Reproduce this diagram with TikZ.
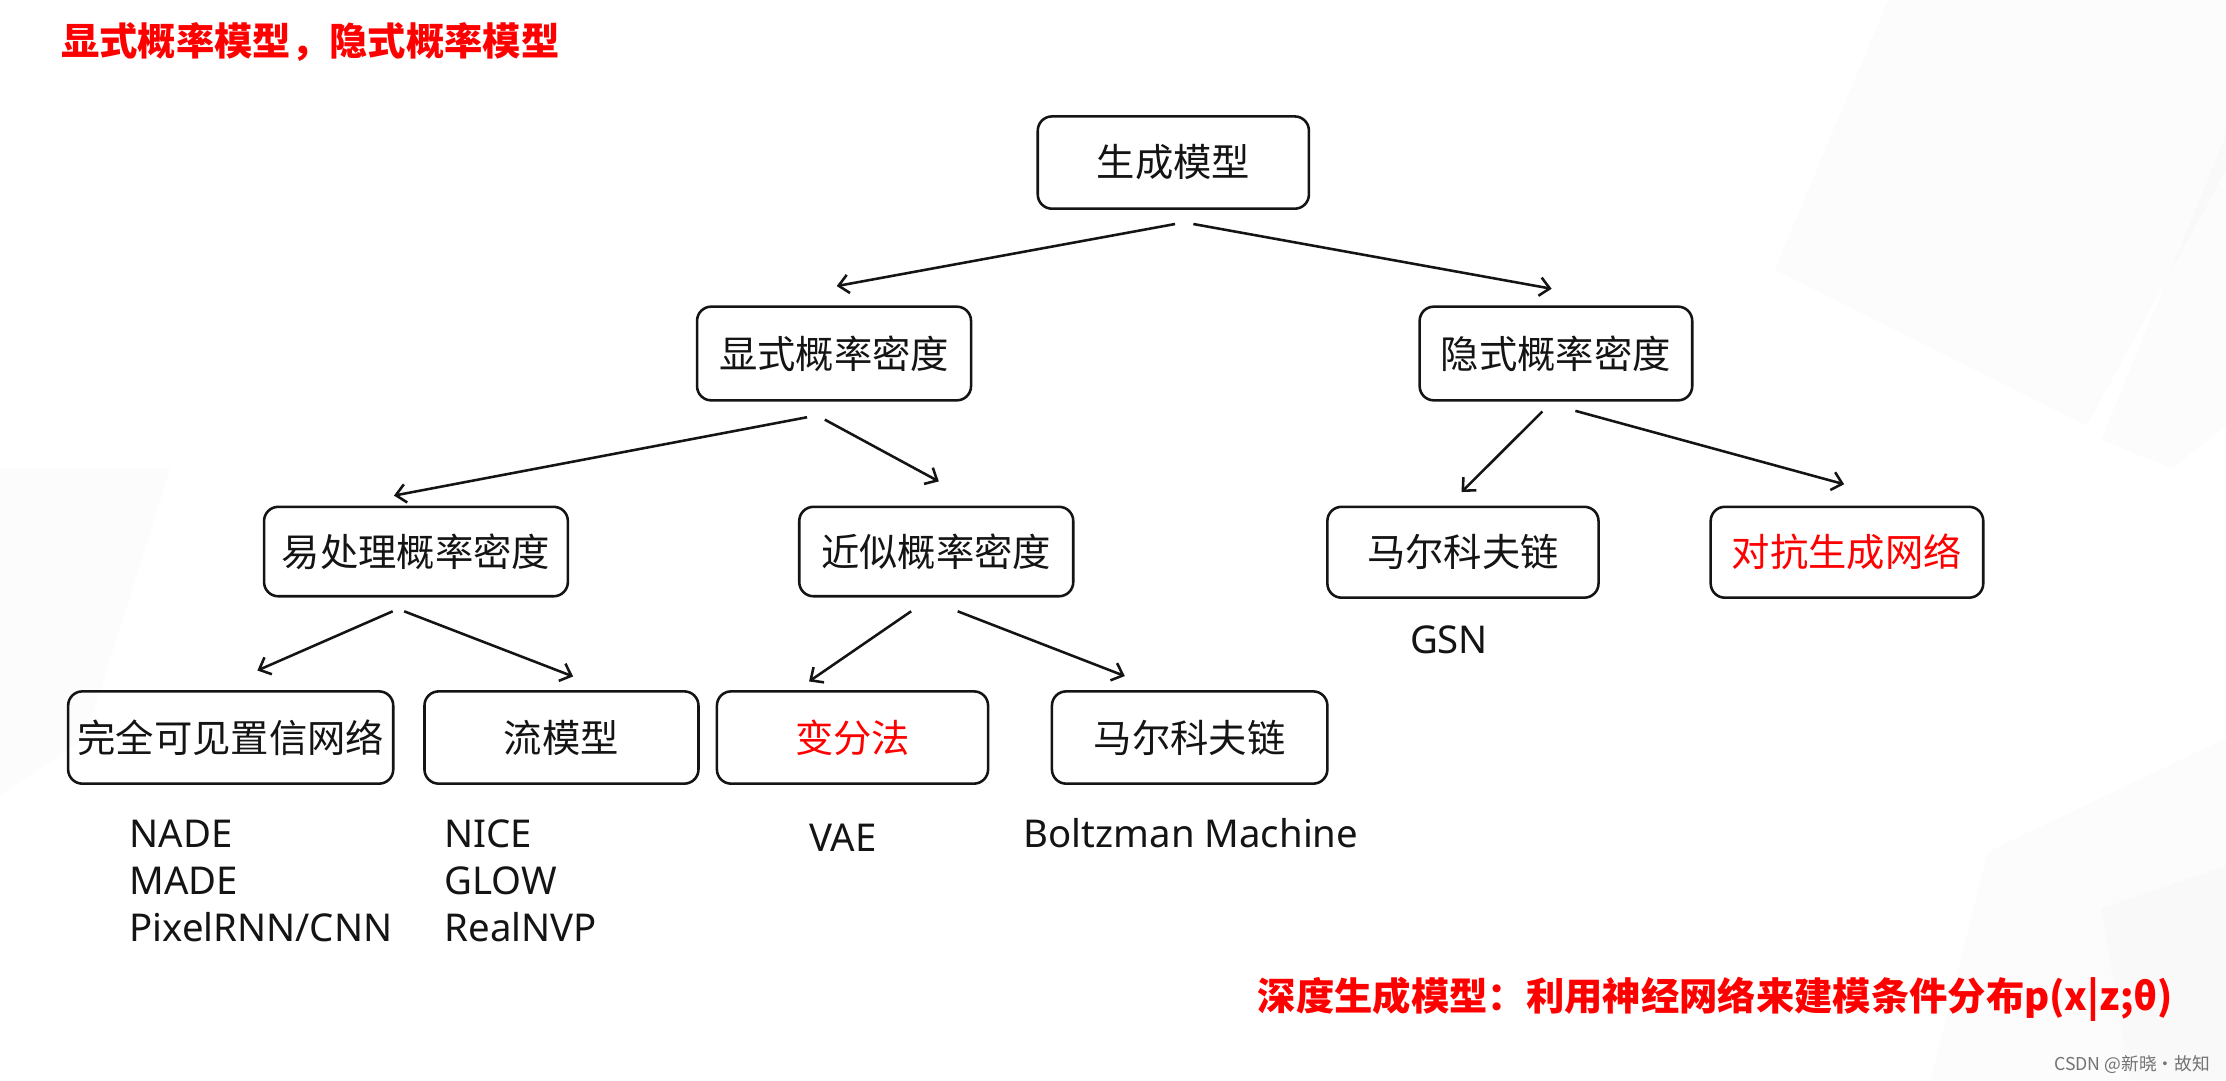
\documentclass[tikz,border=0pt]{standalone}
\usepackage{fontspec}
\setmainfont{Noto Sans CJK SC}
\newfontfamily\latinfont{Noto Sans}
\usetikzlibrary{arrows.meta,calc}
\definecolor{hlred}{RGB}{255,0,0}
\definecolor{ink}{RGB}{20,20,20}
\tikzset{
  x=1pt, y=-1pt,
  box/.style={draw=ink, line width=1.8pt, rounded corners=10pt,
    text=ink, inner sep=0pt, font=\fontsize{27}{32}\selectfont},
  lbl/.style={text=ink, inner sep=0pt, anchor=base west,
    font=\latinfont\fontsize{27}{32}\selectfont},
  arr/.style={draw=ink, line width=1.8pt,
    -{Straight Barb[length=7pt,width=13pt,line width=1.8pt]}},
  shade/.style={fill=black, opacity=0.012, draw=none},
}
\begin{document}
\begin{tikzpicture}
% canvas
\fill[white] (0,0) rectangle (1568,761);
\useasboundingbox (0,0) rectangle (1568,761);

% faint slanted panels of the slide background
\fill[shade] (1330,0) -- (1568,0) -- (1568,120) -- (1470,300) -- (1250,190) -- cycle;
\fill[shade] (1568,95) -- (1568,300) -- (1530,330) -- (1480,310) -- cycle;
\fill[shade] (1400,600) -- (1568,520) -- (1568,761) -- (1360,761) -- cycle;
\fill[shade] (1480,640) -- (1568,610) -- (1568,761) -- (1500,761) -- cycle;
\fill[shade] (0,330) -- (120,330) -- (60,520) -- (0,560) -- cycle;

% headline and footnote
\node[anchor=base west, inner sep=0pt, text=hlred,
  font=\bfseries\fontsize{27}{32}\selectfont] (title) at (43,39)
  {显式概率模型，隐式概率模型};
\node[anchor=base east, inner sep=0pt, text=hlred,
  font=\bfseries\fontsize{27}{32}\selectfont] (foot) at (1531,712)
  {深度生成模型：利用神经网络来建模条件分布p(x|z;θ)};
\node[anchor=base east, inner sep=0pt, text=black!55,
  font=\fontsize{12.5}{14}\selectfont] (mark) at (1557,754)
  {CSDN @新晓·故知};

% tree of boxes
\node[box, minimum width=191pt, minimum height=65pt] (gen)  at (826.5,114.5) {生成模型};
\node[box, minimum width=193pt, minimum height=66pt] (expl) at (587.5,249)   {显式概率密度};
\node[box, minimum width=192pt, minimum height=66pt] (impl) at (1096,249)    {隐式概率密度};
\node[box, minimum width=214pt, minimum height=63pt] (trac) at (293,388.5)   {易处理概率密度};
\node[box, minimum width=193pt, minimum height=63pt] (appr) at (659.5,388.5) {近似概率密度};
\node[box, minimum width=191pt, minimum height=64pt] (mc)   at (1030.5,389)  {马尔科夫链};
\node[box, minimum width=192pt, minimum height=64pt, text=hlred] (gan) at (1301,389) {对抗生成网络};
\node[box, minimum width=229pt, minimum height=65pt] (fvbn) at (162.5,519.5) {完全可见置信网络};
\node[box, minimum width=193pt, minimum height=65pt] (flow) at (395.5,519.5) {流模型};
\node[box, minimum width=191pt, minimum height=65pt, text=hlred] (var) at (600.5,519.5) {变分法};
\node[box, minimum width=194pt, minimum height=65pt] (mc2)  at (838,519.5)   {马尔科夫链};

% example models under the leaves
\node[lbl] (gsn)   at (993,460.5) {GSN};
\node[lbl] (nade)  at (91,597)  {NADE};
\node[lbl] (made)  at (91,630)  {MADE};
\node[lbl] (pixel) at (91,663)  {PixelRNN/CNN};
\node[lbl] (nice)  at (313,597) {NICE};
\node[lbl] (glow)  at (313,630) {GLOW};
\node[lbl] (rnvp)  at (313,663) {RealNVP};
\node[lbl] (vae)   at (570,600) {VAE};
\node[lbl] (boltz) at (721,597) {Boltzman Machine};

% connectors
\draw[arr] ([shift={(1.2,9.9)}]gen.south)   -- ([shift={(1.9,-13.6)}]expl.north);
\draw[arr] ([shift={(14.1,9.9)}]gen.south)  -- ([shift={(-3,-11.7)}]impl.north);
\draw[arr] ([shift={(-19,11)}]expl.south)   -- ([shift={(-15.5,-7)}]trac.north);
\draw[arr] ([shift={(-6.5,12.7)}]expl.south) -- ([shift={(1.8,-17)}]appr.north);
\draw[arr] ([shift={(-9.6,7)}]impl.south)   -- ([shift={(-1,-9.5)}]mc.north);
\draw[arr] ([shift={(13.7,6.5)}]impl.south) -- ([shift={(-2,-15)}]gan.north);
\draw[arr] ([shift={(-16.4,9.7)}]trac.south) -- ([shift={(18.8,-13.8)}]fvbn.north);
\draw[arr] ([shift={(-8.3,9.7)}]trac.south)  -- ([shift={(8.2,-9.6)}]flow.north);
\draw[arr] ([shift={(-17.7,9.7)}]appr.south) -- ([shift={(-30.6,-6.1)}]var.north);
\draw[arr] ([shift={(15.1,9.7)}]appr.south)  -- ([shift={(-45.7,-9.9)}]mc2.north);
\end{tikzpicture}
\end{document}
